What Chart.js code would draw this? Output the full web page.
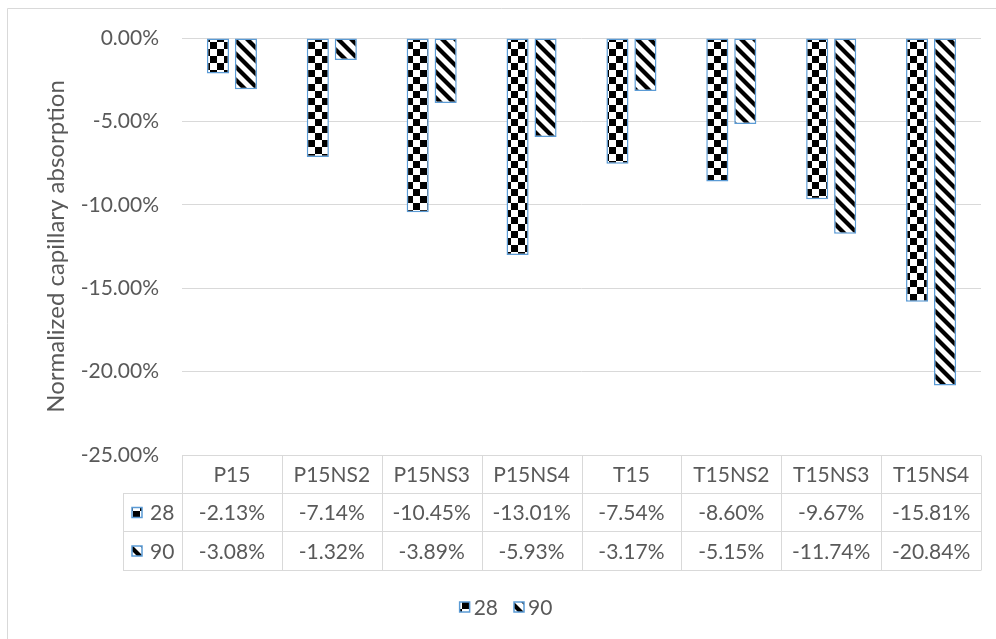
<!DOCTYPE html>
<html>
<head>
<meta charset="utf-8">
<script src="https://cdn.jsdelivr.net/npm/chart.js@4/dist/chart.umd.min.js"></script>
<style>
  html,body{margin:0;padding:0;background:#fff;}
  #wrap{width:996px;height:639px;}
</style>
</head>
<body>
<div id="wrap"><canvas id="graf" width="996" height="639"></canvas></div>
<script>
// dados
const categorias = ['P15','P15NS2','P15NS3','P15NS4','T15','T15NS2','T15NS3','T15NS4'];
const serie28 = [-2.13,-7.14,-10.45,-13.01,-7.54,-8.60,-9.67,-15.81];
const serie90 = [-3.08,-1.32,-3.89,-5.93,-3.17,-5.15,-11.74,-20.84];
const nomesSeries = ['28','90'];
const yTicks = [0,-5,-10,-15,-20,-25];

const FONTE = 'Lato, "Open Sans", sans-serif';
const TAM = 21;
const CINZA = '#595959';
const GRADE = '#d9d9d9';
const AZUL = '#5b9bd5';

// padrao xadrez (28)
function padraoXadrez(ctx){
  let t = document.createElement('canvas'); t.width=14; t.height=14;
  let g = t.getContext('2d');
  g.fillStyle='#fff'; g.fillRect(0,0,14,14);
  g.fillStyle='#000'; g.fillRect(0,0,7,7); g.fillRect(7,7,7,7);
  return ctx.createPattern(t,'repeat');
}
// padrao listras diagonais (90)
function padraoListras(ctx){
  let s=13;
  let t = document.createElement('canvas'); t.width=s; t.height=s;
  let g = t.getContext('2d');
  g.fillStyle='#fff'; g.fillRect(0,0,s,s);
  g.strokeStyle='#000'; g.lineWidth=4.2;
  [[0,0,s,s],[-s,0,s,2*s],[0,-s,2*s,s]].forEach(l=>{
    g.beginPath(); g.moveTo(l[0],l[1]); g.lineTo(l[2],l[3]); g.stroke();
  });
  return ctx.createPattern(t,'repeat');
}

const ctx = document.getElementById('graf').getContext('2d');
const padroes = [padraoXadrez(ctx), padraoListras(ctx)];
const fmt = v => (Math.abs(v)<1e-9 ? 0 : v).toFixed(2)+'%';

function icone(c,x,y,i){
  c.fillStyle = padroes[i];
  c.fillRect(x,y,10,10);
  c.strokeStyle = AZUL; c.lineWidth = 1.5;
  c.strokeRect(x,y,10,10);
}

const tabelaPlugin = {
  id:'tabela',
  beforeDraw(chart){
    let c = chart.ctx;
    c.save();
    c.fillStyle='#fff'; c.fillRect(0,0,chart.width,chart.height);
    // moldura
    c.strokeStyle=GRADE; c.lineWidth=1;
    c.beginPath(); c.moveTo(7.5,639); c.lineTo(7.5,8.5); c.lineTo(996,8.5); c.stroke();
    c.restore();
  },
  afterDraw(chart){
    let c = chart.ctx, a = chart.chartArea;
    let n = categorias.length, colW = (a.right-a.left)/n;
    let y0 = Math.round(a.bottom)+0.5, y1 = y0+38, y2 = y1+38, y3 = y2+39;
    let xL = a.left-59;
    c.save();
    c.strokeStyle=GRADE; c.lineWidth=1;
    c.beginPath();
    c.moveTo(a.left,y0); c.lineTo(a.right,y0);
    [y1,y2,y3].forEach(y=>{c.moveTo(xL,y); c.lineTo(a.right,y);});
    c.moveTo(Math.round(xL)+0.5,y1); c.lineTo(Math.round(xL)+0.5,y3);
    for(let i=0;i<=n;i++){
      let x = Math.round(a.left+i*colW)+0.5;
      c.moveTo(x,y0); c.lineTo(x,y3);
    }
    c.stroke();
    c.fillStyle=CINZA; c.font=TAM+'px '+FONTE;
    c.textAlign='center'; c.textBaseline='middle';
    let linhas = [serie28, serie90];
    for(let i=0;i<n;i++){
      let cx = a.left+(i+0.5)*colW;
      c.fillText(categorias[i],cx,(y0+y1)/2+1);
      c.fillText(fmt(linhas[0][i]),cx,(y1+y2)/2+1);
      c.fillText(fmt(linhas[1][i]),cx,(y2+y3)/2+1);
    }
    // cabecalho das linhas
    [[y1,y2],[y2,y3]].forEach((r,k)=>{
      let my = (r[0]+r[1])/2;
      icone(c,xL+9,my-5,k);
      c.fillStyle=CINZA; c.textAlign='left';
      c.fillText(nomesSeries[k],xL+27,my+1);
    });
    // legenda
    let ly = 607, cxL = 506, gap = 16;
    let ws = nomesSeries.map(s=>14+c.measureText(s).width);
    let tot = ws.reduce((p,q)=>p+q,0)+gap;
    let x = cxL - tot/2;
    nomesSeries.forEach((s,k)=>{
      icone(c,x,ly-5,k);
      c.fillStyle=CINZA; c.textAlign='left';
      c.fillText(s,x+14,ly+1);
      x += ws[k]+gap;
    });
    c.restore();
  }
};

new Chart(ctx,{
  type:'bar',
  data:{
    labels:categorias,
    datasets:[
      {label:nomesSeries[0],data:serie28,backgroundColor:padroes[0],borderColor:AZUL,borderWidth:1.5,borderSkipped:false},
      {label:nomesSeries[1],data:serie90,backgroundColor:padroes[1],borderColor:AZUL,borderWidth:1.5,borderSkipped:false}
    ]
  },
  options:{
    responsive:false,
    animation:false,
    layout:{padding:{top:38,right:15,bottom:184,left:0}},
    datasets:{bar:{categoryPercentage:0.56,barPercentage:0.79}},
    plugins:{legend:{display:false},tooltip:{enabled:false}},
    scales:{
      x:{display:false},
      y:{
        min:-25,max:0,
        afterFit(s){ s.width = 182; },
        afterBuildTicks(s){ s.ticks = yTicks.map(v=>({value:v})); },
        grid:{color:GRADE,lineWidth:1,drawTicks:false},
        border:{display:false},
        ticks:{padding:23,color:CINZA,font:{family:FONTE,size:TAM},callback:v=>fmt(v)},
        title:{display:true,text:'Normalized capillary absorption',color:CINZA,
               font:{family:FONTE,size:24},padding:{top:42,bottom:0}}
      }
    }
  },
  plugins:[tabelaPlugin]
});
</script>
</body>
</html>
